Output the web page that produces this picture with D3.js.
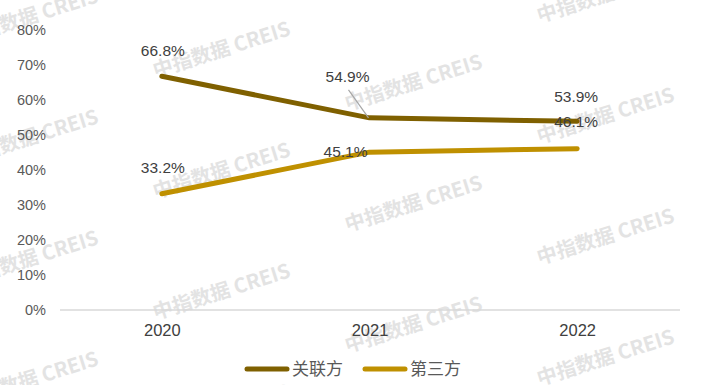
<!DOCTYPE html>
<html><head><meta charset="utf-8">
<script src="https://cdn.jsdelivr.net/npm/d3@7"></script>
<style>
html,body{margin:0;padding:0;background:#fff;}
svg{display:block;font-family:"Liberation Sans",Arial,sans-serif;}
</style></head>
<body><svg id="c" width="702" height="385"></svg>
<script>
const years = ["2020","2021","2022"];
const relatedParty = [66.8, 54.9, 53.9];
const thirdParty = [33.2, 45.1, 46.1];
const seriesNames = ["关联方","第三方"];
const yTicks = [0,10,20,30,40,50,60,70,80];
const watermarkText = "中指数据 CREIS";

const colors = ["#7f6000","#bf9000"];
const svg = d3.select("#c");
const W = 702, H = 385;

const x = d3.scalePoint().domain(years).range([58, 681]).padding(0.5);
const y = d3.scaleLinear().domain([0,80]).range([310, 30]);

// watermarks
const wm = svg.append("g");
for (let i = -1; i < 5; i++) {
  for (let k = -2; k < 5; k++) {
    const cx = 30 + 192*i, cy = 18 + 33*i + 121*k;
    if (cx < -100 || cx > W+100 || cy < -40 || cy > H+40) continue;
    wm.append("text").attr("transform", `translate(${cx},${cy}) rotate(-17.5)`)
      .attr("text-anchor","middle").attr("dominant-baseline","middle")
      .style("font-family","'Noto Sans CJK SC',sans-serif").style("font-weight","bold")
      .style("font-size","20px").attr("fill","#d9d9d9").attr("opacity",0.72)
      .text(watermarkText);
  }
}

// x axis
const xAxis = d3.axisBottom(x).tickSize(0).tickPadding(14);
const gx = svg.append("g").attr("transform",`translate(0,${y(0)})`).call(xAxis);
gx.select(".domain").attr("d","M60,0H680").attr("stroke","#d9d9d9").attr("stroke-width",1.3);
gx.selectAll("text").style("font-size","16.5px").attr("fill","#404040").style("font-family","'Liberation Sans',Arial,sans-serif");

// y axis
const yAxis = d3.axisLeft(y).tickValues(yTicks).tickSize(0).tickPadding(0).tickFormat(d=>d+"%");
const gy = svg.append("g").attr("transform","translate(46,0)").call(yAxis);
gy.select(".domain").remove();
gy.selectAll("text").style("font-size","14.5px").attr("fill","#595959").style("font-family","'Liberation Sans',Arial,sans-serif");

// lines
const series = [relatedParty, thirdParty];
const line = d3.line().x((d,i)=>x(years[i])).y(d=>y(d));
series.forEach((s,si)=>{
  svg.append("path").datum(s).attr("d",line).attr("fill","none")
    .attr("stroke",colors[si]).attr("stroke-width",5).attr("stroke-linecap","round").attr("stroke-linejoin","round");
});

// data labels (offsets in px relative to point)
const labelOffsets = [
  [[1,-20],[-22,-36],[-1,-19]],
  [[1,-21],[-24,5],[-1,-22]]
];
// leader line for 54.9%
svg.append("line").attr("x1",x(years[1])-21).attr("y1",y(relatedParty[1])-28)
  .attr("x2",x(years[1])-1).attr("y2",y(relatedParty[1])).attr("stroke","#a6a6a6").attr("stroke-width",1.2);

series.forEach((s,si)=>{
  s.forEach((v,i)=>{
    svg.append("text").attr("x",x(years[i])+labelOffsets[si][i][0]).attr("y",y(v)+labelOffsets[si][i][1])
      .attr("text-anchor","middle").style("font-size","15.5px").attr("fill","#404040")
      .text(v.toFixed(1)+"%");
  });
});

// legend
const legendItems = [{x:245},{x:363}];
legendItems.forEach((it,i)=>{
  svg.append("line").attr("x1",it.x+2).attr("x2",it.x+42).attr("y1",369).attr("y2",369)
    .attr("stroke",colors[i]).attr("stroke-width",5).attr("stroke-linecap","round");
  svg.append("text").attr("x",it.x+47).attr("y",375).style("font-size","17px")
    .style("font-family","'Noto Sans CJK SC',sans-serif").attr("fill","#595959").text(seriesNames[i]);
});
</script></body></html>
